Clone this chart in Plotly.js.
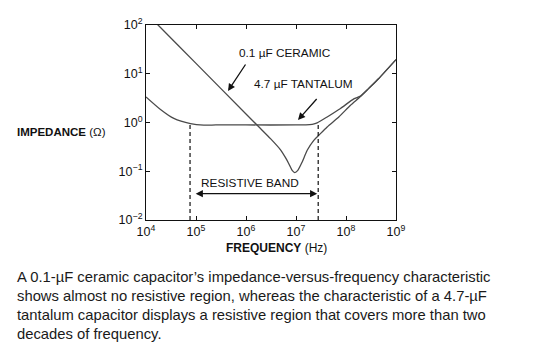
<!DOCTYPE html>
<html><head><meta charset="utf-8">
<script src="https://cdn.plot.ly/plotly-3.0.1.min.js"></script>
<style>html,body{margin:0;padding:0;background:#fff;} #chart{width:536px;height:360px;}</style>
</head><body><div id="chart"></div>
<script>
// ---- data ----
const ceramicFreq = [1e4, 1.74e4, 1e5, 1e6, 1.95e6, 3.09e6, 4.9e6, 6.17e6, 7.18e6, 8.39e6, 9.46e6, 1.087e7, 1.33e7, 1.675e7, 2.27e7, 2.86e7, 4.2e7, 7.18e7, 1.23e8, 1.95e8, 2.82e8, 4.47e8, 1e9];
const ceramicZ    = [177, 100, 16.3, 1.5, 0.751, 0.466, 0.275, 0.19, 0.143, 0.104, 0.0935, 0.104, 0.155, 0.269, 0.431, 0.547, 0.81, 1.30, 2.26, 3.4, 4.95, 7.9, 19.5];
const tantalumFreq = [1e4, 1.95e4, 3.6e4, 7.76e4, 1.43e5, 2.51e5, 1e6, 1e7, 1.58e7, 2.11e7, 2.65e7, 4.2e7, 7.76e7, 1.43e8, 1.95e8, 2.82e8, 4.47e8, 1e9];
const tantalumZ    = [3.35, 1.85, 1.21, 0.95, 0.885, 0.89, 0.89, 0.89, 0.895, 0.92, 0.98, 1.30, 1.94, 3.05, 3.5, 4.95, 7.9, 19.5];
const bandFreq = [7.6e4, 2.78e7];      // resistive band edges (Hz)
const bandTopZ = [0.95, 0.97];          // where the dashed markers meet the curve
const bandFloorZ = 0.01;
const xTickVals = [1e4, 1e5, 1e6, 1e7, 1e8, 1e9];
const xTickText = ['10<sup>4</sup>','10<sup>5</sup>','10<sup>6</sup>','10<sup>7</sup>','10<sup>8</sup>','10<sup>9</sup>'];
const yTickVals = [0.01, 0.1, 1, 10, 100];
const yTickText = ['10<sup>\u22122</sup>','10<sup>\u22121</sup>','10<sup>0</sup>','10<sup>1</sup>','10<sup>2</sup>'];
const ceramicLabel = '0.1 \u00b5F CERAMIC';
const tantalumLabel = '4.7 \u00b5F TANTALUM';
const bandLabel = 'RESISTIVE BAND';
const xTitle = '<b>FREQUENCY</b> (Hz)';
const yTitle = '<b>IMPEDANCE</b> (\u03a9)';
const captionLines = [
  'A 0.1-\u00b5F ceramic capacitor\u2019s impedance-versus-frequency characteristic',
  'shows almost no resistive region, whereas the characteristic of a 4.7-\u00b5F',
  'tantalum capacitor displays a resistive region that covers more than two',
  'decades of frequency.'
];

// ---- layout geometry ----
const W = 536, H = 360;
const M = {l: 146, r: 140, t: 25, b: 140};
const PW = W - M.l - M.r, PH = H - M.t - M.b;
const FONT = 'Liberation Sans, Arial, sans-serif';
const px2paperX = x => (x - M.l) / PW;
const px2paperY = y => (H - M.b - y) / PH;

const curveStyle = {color: '#4a4a4a', width: 1.3, shape: 'spline', smoothing: 0.6};
const traces = [
  {x: ceramicFreq, y: ceramicZ, mode: 'lines', line: curveStyle, hoverinfo: 'skip'},
  {x: tantalumFreq, y: tantalumZ, mode: 'lines', line: curveStyle, hoverinfo: 'skip'},
  {x: [bandFreq[0], bandFreq[0]], y: [bandFloorZ, bandTopZ[0]], mode: 'lines', line: {color: '#111', width: 1.2, dash: '4px,3px'}, hoverinfo: 'skip'},
  {x: [bandFreq[1], bandFreq[1]], y: [bandFloorZ, bandTopZ[1]], mode: 'lines', line: {color: '#111', width: 1.2, dash: '4px,3px'}, hoverinfo: 'skip'}
];

const lg = Math.log10;
const txtFont = {family: FONT, size: 11.8, color: '#111'};
const annotations = [
  {xref: 'x', yref: 'y', x: 6.774, y: 1.426, text: ceramicLabel, showarrow: false, font: txtFont},
  {xref: 'x', yref: 'y', x: 7.156, y: 0.784, text: tantalumLabel, showarrow: false, font: txtFont},
  {xref: 'x', yref: 'y', x: 6.07, y: -1.235, text: bandLabel, showarrow: false, font: txtFont},
  // arrows
  {xref: 'x', yref: 'y', x: 5.64, y: 0.646, ax: 18.5, ay: -28, text: '', showarrow: true,
   arrowhead: 2, arrowsize: 1.1, arrowwidth: 1.3, arrowcolor: '#111', standoff: 0},
  {xref: 'x', yref: 'y', x: 7.04, y: 0.051, ax: 20, ay: -22.5, text: '', showarrow: true,
   arrowhead: 2, arrowsize: 1.1, arrowwidth: 1.3, arrowcolor: '#111', standoff: 0},
  {xref: 'x', yref: 'y', x: lg(bandFreq[1]) - 0.02, y: -1.46, ax: -123, ay: 0, text: '', showarrow: true,
   arrowhead: 2, startarrowhead: 2, arrowside: 'end+start', arrowsize: 1.1, arrowwidth: 1.3, arrowcolor: '#111', standoff: 0, startstandoff: 0},
  // axis titles
  {xref: 'paper', yref: 'paper', x: px2paperX(15), y: px2paperY(131.7), xanchor: 'left', yanchor: 'middle',
   text: yTitle, showarrow: false, font: {family: FONT, size: 11.5, color: '#111'}},
  {xref: 'paper', yref: 'paper', x: px2paperX(276.2), y: px2paperY(248.3), xanchor: 'center', yanchor: 'middle',
   text: xTitle, showarrow: false, font: {family: FONT, size: 12, color: '#111'}}
];
const captionY = [276.7, 295.8, 314.9, 334];
captionLines.forEach((t, i) => annotations.push({
  xref: 'paper', yref: 'paper', x: px2paperX(15), y: px2paperY(captionY[i]), xanchor: 'left', yanchor: 'middle',
  text: t, showarrow: false, font: {family: FONT, size: 14.8, color: '#1a1a1a'}
}));

const axisCommon = {
  type: 'log', showgrid: false, zeroline: false, showline: true, linecolor: '#111', linewidth: 1,
  mirror: 'ticks', ticks: 'inside', ticklen: 4, tickwidth: 1, tickcolor: '#111',
  tickmode: 'array', tickfont: {family: FONT, size: 12.5, color: '#111'}
};
const layout = {
  width: W, height: H, margin: M, showlegend: false,
  paper_bgcolor: '#fff', plot_bgcolor: '#fff',
  xaxis: Object.assign({}, axisCommon, {range: [4, 9], tickvals: xTickVals, ticktext: xTickText}),
  yaxis: Object.assign({}, axisCommon, {range: [-2, 2], tickvals: yTickVals, ticktext: yTickText}),
  annotations: annotations
};
Plotly.newPlot('chart', traces, layout, {staticPlot: true, displayModeBar: false});
</script>
</body></html>
